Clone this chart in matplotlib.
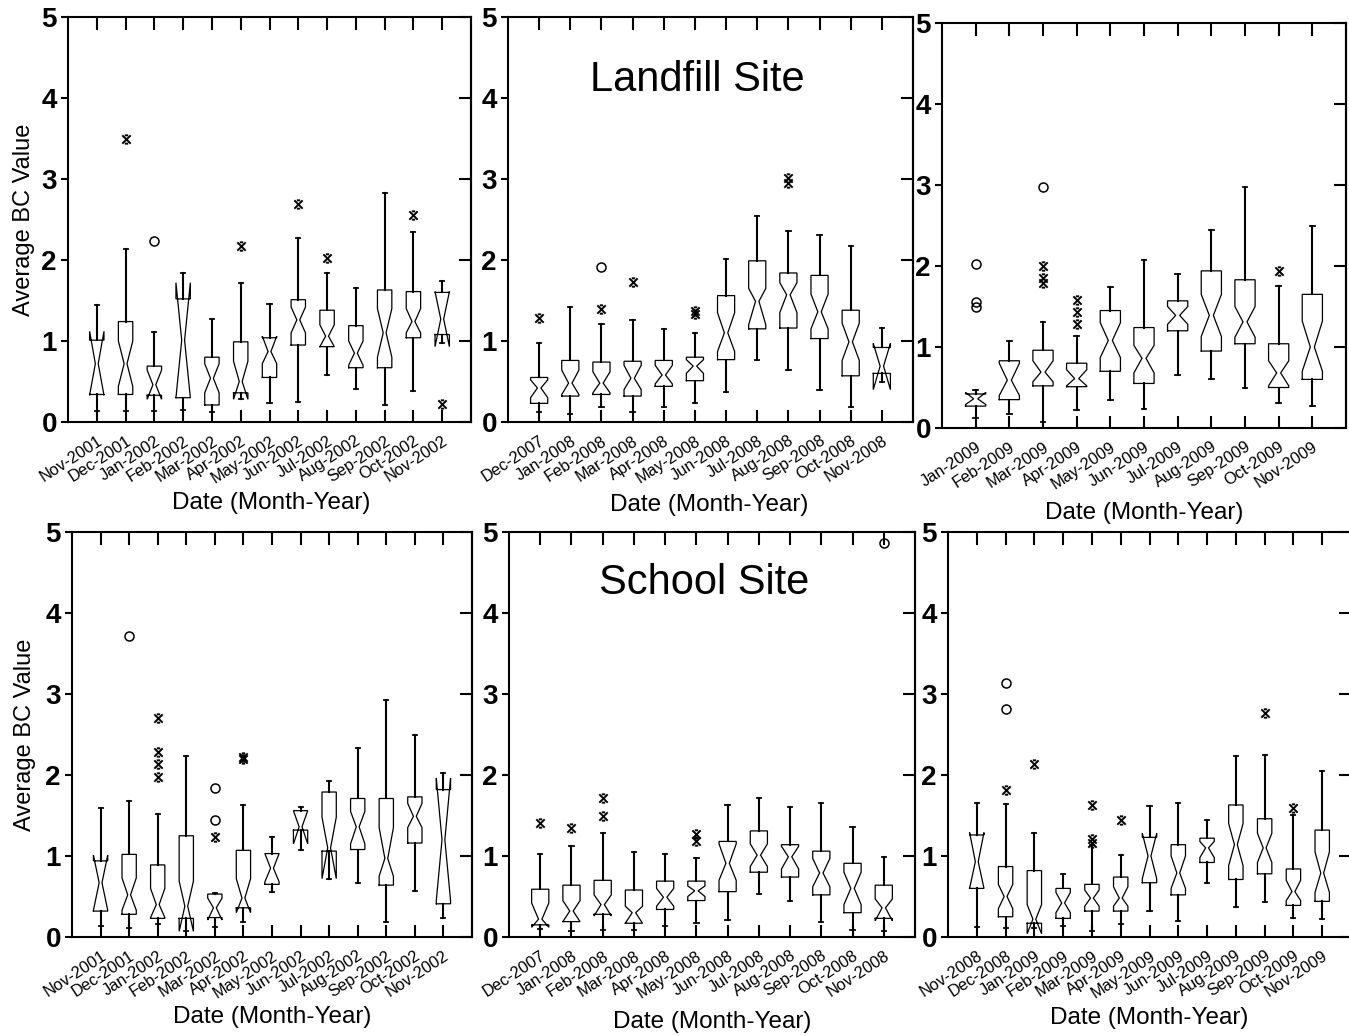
import numpy as np
import matplotlib.pyplot as plt
from matplotlib.path import Path

plt.rcParams['font.family'] = ['Liberation Sans', 'DejaVu Sans']

# ---------------- Landfill site, Nov-2001 .. Nov-2002
lf1_labels = ['Nov-2001', 'Dec-2001', 'Jan-2002', 'Feb-2002', 'Mar-2002', 'Apr-2002', 'May-2002',
              'Jun-2002', 'Jul-2002', 'Aug-2002', 'Sep-2002', 'Oct-2002', 'Nov-2002']
lf1_whislo = [0.13, 0.13, 0.13, 0.15, 0.12, 0.28, 0.23, 0.25, 0.58, 0.41, 0.21, 0.38, 0.98]
lf1_q1 = [0.34, 0.34, 0.33, 0.30, 0.21, 0.36, 0.55, 0.95, 0.93, 0.67, 0.67, 1.04, 1.08]
lf1_cilo = [0.33, 0.44, 0.28, 0.30, 0.36, 0.28, 0.72, 1.10, 0.93, 0.70, 0.80, 1.10, 0.93]
lf1_med = [0.72, 0.72, 0.46, 1.01, 0.54, 0.50, 0.87, 1.26, 1.06, 0.85, 1.10, 1.24, 1.27]
lf1_cihi = [1.12, 1.00, 0.64, 1.72, 0.72, 0.75, 1.06, 1.42, 1.20, 1.00, 1.40, 1.40, 1.61]
lf1_q3 = [1.01, 1.24, 0.69, 1.52, 0.80, 0.99, 1.04, 1.51, 1.38, 1.19, 1.63, 1.61, 1.60]
lf1_whishi = [1.45, 2.14, 1.11, 1.84, 1.27, 1.71, 1.46, 2.27, 1.84, 1.66, 2.83, 2.34, 1.74]
lf1_circles = [(3, 2.23)]
lf1_stars = [(2, 3.49), (6, 2.17), (8, 2.69), (9, 2.03), (12, 2.56), (13, 0.22)]

# ---------------- Landfill site, Dec-2007 .. Nov-2008
lf2_labels = ['Dec-2007', 'Jan-2008', 'Feb-2008', 'Mar-2008', 'Apr-2008', 'May-2008',
              'Jun-2008', 'Jul-2008', 'Aug-2008', 'Sep-2008', 'Oct-2008', 'Nov-2008']
lf2_whislo = [0.12, 0.10, 0.19, 0.12, 0.19, 0.24, 0.37, 0.76, 0.64, 0.40, 0.18, 0.50]
lf2_q1 = [0.23, 0.32, 0.34, 0.32, 0.44, 0.51, 0.77, 1.15, 1.16, 1.03, 0.57, 0.60]
lf2_cilo = [0.30, 0.34, 0.36, 0.40, 0.47, 0.60, 0.87, 1.20, 1.35, 1.15, 0.76, 0.40]
lf2_med = [0.42, 0.48, 0.48, 0.54, 0.58, 0.69, 1.10, 1.49, 1.57, 1.36, 0.99, 0.69]
lf2_cihi = [0.52, 0.64, 0.62, 0.70, 0.70, 0.77, 1.35, 1.65, 1.72, 1.58, 1.22, 0.97]
lf2_q3 = [0.55, 0.76, 0.74, 0.75, 0.76, 0.80, 1.56, 1.99, 1.84, 1.81, 1.38, 0.92]
lf2_whishi = [0.97, 1.42, 1.21, 1.26, 1.15, 1.10, 2.01, 2.54, 2.36, 2.31, 2.17, 1.16]
lf2_circles = [(3, 1.91)]
lf2_stars = [(1, 1.28), (3, 1.40), (4, 1.73), (6, 1.37), (6, 1.33), (9, 3.01), (9, 2.95)]

# ---------------- Landfill site, Jan-2009 .. Nov-2009
lf3_labels = ['Jan-2009', 'Feb-2009', 'Mar-2009', 'Apr-2009', 'May-2009', 'Jun-2009',
              'Jul-2009', 'Aug-2009', 'Sep-2009', 'Oct-2009', 'Nov-2009']
lf3_whislo = [0.12, 0.17, 0.07, 0.22, 0.35, 0.23, 0.66, 0.61, 0.50, 0.31, 0.27]
lf3_q1 = [0.27, 0.35, 0.52, 0.51, 0.70, 0.55, 1.20, 0.95, 1.04, 0.50, 0.60]
lf3_cilo = [0.29, 0.40, 0.57, 0.52, 0.87, 0.68, 1.28, 1.13, 1.12, 0.52, 0.70]
lf3_med = [0.36, 0.59, 0.69, 0.61, 1.08, 0.86, 1.39, 1.39, 1.31, 0.68, 1.00]
lf3_cihi = [0.44, 0.80, 0.83, 0.72, 1.30, 1.02, 1.50, 1.65, 1.50, 0.83, 1.32]
lf3_q3 = [0.42, 0.83, 0.96, 0.80, 1.45, 1.24, 1.57, 1.94, 1.83, 1.04, 1.65]
lf3_whishi = [0.47, 1.08, 1.31, 1.13, 1.74, 2.08, 1.90, 2.45, 2.98, 1.75, 2.50]
lf3_circles = [(1, 2.02), (1, 1.55), (1, 1.50), (3, 2.97)]
lf3_stars = [(3, 2.00), (3, 1.85), (3, 1.79), (4, 1.58), (4, 1.43), (4, 1.29), (10, 1.94)]

# ---------------- School site, Nov-2001 .. Nov-2002
sc1_labels = lf1_labels
sc1_whislo = [0.14, 0.11, 0.16, 0.08, 0.12, 0.19, 0.55, 1.08, 0.72, 0.67, 0.18, 0.57, 0.23]
sc1_q1 = [0.32, 0.28, 0.23, 0.23, 0.24, 0.36, 0.65, 1.32, 1.06, 1.08, 0.64, 1.16, 0.41]
sc1_cilo = [0.33, 0.33, 0.24, 0.07, 0.21, 0.30, 0.68, 1.15, 0.72, 1.15, 0.75, 1.35, 0.45]
sc1_med = [0.67, 0.52, 0.40, 0.38, 0.36, 0.48, 0.85, 1.36, 1.10, 1.36, 0.97, 1.49, 1.20]
sc1_cihi = [1.01, 0.73, 0.60, 0.69, 0.48, 0.72, 1.03, 1.56, 1.48, 1.55, 1.35, 1.65, 1.96]
sc1_q3 = [0.94, 1.02, 0.89, 1.25, 0.53, 1.07, 1.03, 1.56, 1.79, 1.71, 1.71, 1.73, 1.82]
sc1_whishi = [1.59, 1.68, 1.52, 2.23, 0.54, 1.63, 1.24, 1.61, 1.93, 2.33, 2.92, 2.50, 2.03]
sc1_circles = [(2, 3.72), (5, 1.84), (5, 1.45)]
sc1_stars = [(3, 2.70), (3, 2.29), (3, 2.13), (3, 1.97), (5, 1.24), (6, 2.22), (6, 2.20)]

# ---------------- School site, Dec-2007 .. Nov-2008
sc2_labels = lf2_labels
sc2_whislo = [0.10, 0.07, 0.09, 0.09, 0.13, 0.17, 0.21, 0.53, 0.45, 0.19, 0.09, 0.08]
sc2_q1 = [0.15, 0.19, 0.28, 0.17, 0.34, 0.45, 0.56, 0.80, 0.74, 0.52, 0.30, 0.23]
sc2_cilo = [0.12, 0.19, 0.26, 0.17, 0.38, 0.50, 0.70, 0.87, 0.84, 0.62, 0.40, 0.20]
sc2_med = [0.22, 0.32, 0.40, 0.30, 0.49, 0.57, 0.91, 1.01, 0.99, 0.79, 0.60, 0.36]
sc2_cihi = [0.42, 0.45, 0.52, 0.38, 0.60, 0.63, 1.15, 1.15, 1.12, 0.97, 0.80, 0.47]
sc2_q3 = [0.59, 0.64, 0.70, 0.58, 0.69, 0.69, 1.18, 1.31, 1.14, 1.06, 0.91, 0.64]
sc2_whishi = [1.02, 1.12, 1.29, 1.05, 1.03, 0.97, 1.63, 1.71, 1.60, 1.65, 1.36, 0.99]
sc2_circles = [(12, 4.87)]
sc2_stars = [(1, 1.41), (2, 1.34), (3, 1.71), (3, 1.49), (6, 1.27), (6, 1.19)]

# ---------------- School site, Nov-2008 .. Nov-2009
sc3_labels = ['Nov-2008', 'Dec-2008', 'Jan-2009', 'Feb-2009', 'Mar-2009', 'Apr-2009', 'May-2009',
              'Jun-2009', 'Jul-2009', 'Aug-2009', 'Sep-2009', 'Oct-2009', 'Nov-2009']
sc3_whislo = [0.12, 0.11, 0.11, 0.14, 0.07, 0.16, 0.32, 0.20, 0.67, 0.37, 0.43, 0.24, 0.22]
sc3_q1 = [0.60, 0.25, 0.17, 0.23, 0.32, 0.32, 0.67, 0.52, 0.92, 0.71, 0.78, 0.39, 0.44]
sc3_cilo = [0.60, 0.35, 0.04, 0.30, 0.38, 0.38, 0.72, 0.60, 0.98, 0.88, 0.92, 0.45, 0.55]
sc3_med = [0.93, 0.50, 0.22, 0.42, 0.48, 0.48, 1.00, 0.79, 1.10, 1.14, 1.10, 0.56, 0.79]
sc3_cihi = [1.29, 0.65, 0.40, 0.55, 0.58, 0.62, 1.28, 1.00, 1.18, 1.40, 1.28, 0.70, 1.05]
sc3_q3 = [1.26, 0.87, 0.82, 0.60, 0.65, 0.74, 1.23, 1.14, 1.22, 1.63, 1.46, 0.84, 1.32]
sc3_whishi = [1.65, 1.64, 1.29, 0.78, 1.13, 1.01, 1.62, 1.65, 1.45, 2.23, 2.25, 1.51, 2.05]
sc3_circles = [(2, 3.13), (2, 2.81)]
sc3_stars = [(2, 1.81), (3, 2.14), (5, 1.63), (5, 1.21), (5, 1.16), (6, 1.45), (11, 2.77), (12, 1.59)]

# asterisk-like outlier symbol (X with short bars top and bottom)
STAR = Path([(-1, -1), (1, 1), (-1, 1), (1, -1), (-0.4, 1), (0.4, 1), (-0.4, -1), (0.4, -1)],
            [Path.MOVETO, Path.LINETO] * 4)

W, H = 1349, 1036
fig = plt.figure(figsize=(W / 100, H / 100), dpi=100)


def add_ax(l, t, r, b):
    return fig.add_axes([l / W, 1 - b / H, (r - l) / W, (b - t) / H])


def draw_panel(ax, labels, whislo, q1, cilo, med, cihi, q3, whishi, circles, stars, width):
    pos = np.arange(1, len(labels) + 1)
    w = width / 2
    n = w * 0.2
    cap = 0.07
    for p, lo, a, cl, m, ch, b, hi in zip(pos, whislo, q1, cilo, med, cihi, q3, whishi):
        xs = [p - w, p + w, p + w, p + n, p + w, p + w, p - w, p - w, p - n, p - w, p - w]
        ys = [a, a, cl, m, ch, b, b, ch, m, cl, a]
        ax.plot(xs, ys, color='black', lw=0.9, solid_joinstyle='miter')
        ax.plot([p, p], [b, hi], color='black', lw=1.5)
        ax.plot([p, p], [lo, a], color='black', lw=1.5)
        ax.plot([p - cap, p + cap], [hi, hi], color='black', lw=1.3)
        ax.plot([p - cap, p + cap], [lo, lo], color='black', lw=1.3)
    if circles:
        cx, cy = zip(*circles)
        ax.plot(cx, cy, 'o', mfc='none', mec='black', ms=6.5, mew=1.1, clip_on=False)
    if stars:
        sx, sy = zip(*stars)
        ax.plot(sx, sy, ls='none', marker=STAR, mec='black', ms=6, mew=1.4)

    ax.set_xlim(0, len(labels) + 1)
    ax.set_ylim(0, 5)
    ax.set_xticks(pos)
    ax.set_xticklabels(labels, rotation=33, ha='right', va='top', rotation_mode='anchor', fontsize=11.8)
    ax.set_yticks(range(6))
    ax.tick_params(axis='x', direction='in', top=True, length=9, width=1.5, pad=8)
    ax.tick_params(axis='y', direction='out', length=5, width=1.5, labelsize=20, pad=3)
    for t in ax.get_yticklabels():
        t.set_fontweight('bold')
    for s in ax.spines.values():
        s.set_linewidth(1.5)
    sec = ax.secondary_yaxis('right')
    sec.set_yticks(range(6))
    sec.set_yticklabels([])
    sec.tick_params(direction='in', length=9, width=1.5)
    sec.spines['right'].set_linewidth(1.5)


panels = [
    (add_ax(68, 17, 471, 422), lf1_labels, lf1_whislo, lf1_q1, lf1_cilo, lf1_med, lf1_cihi, lf1_q3,
     lf1_whishi, lf1_circles, lf1_stars, 0.50, (0.504, -0.2)),
    (add_ax(508, 17, 913, 422), lf2_labels, lf2_whislo, lf2_q1, lf2_cilo, lf2_med, lf2_cihi, lf2_q3,
     lf2_whishi, lf2_circles, lf2_stars, 0.55, (0.496, -0.205)),
    (add_ax(942, 23, 1346, 428), lf3_labels, lf3_whislo, lf3_q1, lf3_cilo, lf3_med, lf3_cihi, lf3_q3,
     lf3_whishi, lf3_circles, lf3_stars, 0.60, (0.50, -0.21)),
    (add_ax(72, 532, 472, 937), sc1_labels, sc1_whislo, sc1_q1, sc1_cilo, sc1_med, sc1_cihi, sc1_q3,
     sc1_whishi, sc1_circles, sc1_stars, 0.50, (0.50, -0.197)),
    (add_ax(509, 532, 915, 937), sc2_labels, sc2_whislo, sc2_q1, sc2_cilo, sc2_med, sc2_cihi, sc2_q3,
     sc2_whishi, sc2_circles, sc2_stars, 0.55, (0.50, -0.21)),
    (add_ax(948, 532, 1351, 937), sc3_labels, sc3_whislo, sc3_q1, sc3_cilo, sc3_med, sc3_cihi, sc3_q3,
     sc3_whishi, sc3_circles, sc3_stars, 0.50, (0.50, -0.2)),
]

axes = []
for ax, *data, width, xl in panels:
    draw_panel(ax, *data, width)
    ax.set_xlabel('Date (Month-Year)', fontsize=17.5, va='center')
    ax.xaxis.set_label_coords(*xl)
    axes.append(ax)

for ax, yx in [(axes[0], -0.11), (axes[3], -0.118)]:
    ax.set_ylabel('Average BC Value', fontsize=17, va='center')
    ax.yaxis.set_label_coords(yx, 0.5)

axes[1].text(0.467, 0.844, 'Landfill Site', transform=axes[1].transAxes, fontsize=30,
             ha='center', va='center')
axes[4].text(0.48, 0.874, 'School Site', transform=axes[4].transAxes, fontsize=30,
             ha='center', va='center')

fig.savefig('out.png', dpi=100)
